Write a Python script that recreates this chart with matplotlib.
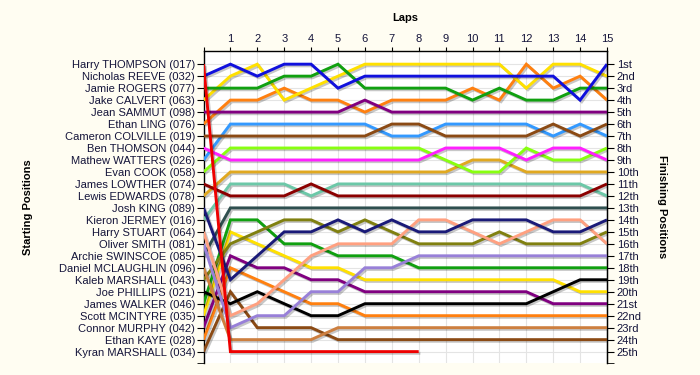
import matplotlib
matplotlib.use("Agg")
import matplotlib.pyplot as plt
import matplotlib.patheffects as pe

plt.rcParams['font.family'] = ['Liberation Sans', 'DejaVu Sans']

# starting grid (row 1..25)
names = [
    "Harry THOMPSON (017)", "Nicholas REEVE (032)", "Jamie ROGERS (077)",
    "Jake CALVERT (063)", "Jean SAMMUT (098)", "Ethan LING (076)",
    "Cameron COLVILLE (019)", "Ben THOMSON (044)", "Mathew WATTERS (026)",
    "Evan COOK (058)", "James LOWTHER (074)", "Lewis EDWARDS (078)",
    "Josh KING (089)", "Kieron JERMEY (016)", "Harry STUART (064)",
    "Oliver SMITH (081)", "Archie SWINSCOE (085)", "Daniel MCLAUGHLIN (096)",
    "Kaleb MARSHALL (043)", "Joe PHILLIPS (021)", "James WALKER (046)",
    "Scott MCINTYRE (035)", "Connor MURPHY (042)", "Ethan KAYE (028)",
    "Kyran MARSHALL (034)",
]

colors = [
    "#ee0000", "#1010dd", "#10a010", "#ffe000", "#800080", "#ff8010",
    "#8b4a14", "#ff20ff", "#3399ff", "#88ff10", "#8b0000", "#e0a820",
    "#1a1a78", "#6cc8a8", "#ffa080", "#9880d8", "#2f4f4f", "#cd7f3f",
    "#808010", "#000000", "#10a010", "#ffe000", "#800080", "#ff8010",
    "#8b4a14",
]

# position at lap 0 (start) .. last lap, one list per driver in grid order
positions = [
    [1, 25, 25, 25, 25, 25, 25, 25, 25],
    [2, 1, 2, 1, 1, 3, 2, 2, 2, 2, 2, 2, 2, 2, 4, 1],
    [3, 3, 3, 2, 2, 1, 3, 3, 3, 3, 4, 3, 4, 4, 3, 3],
    [4, 2, 1, 4, 3, 2, 1, 1, 1, 1, 1, 1, 3, 1, 1, 2],
    [5, 5, 5, 5, 5, 5, 4, 5, 5, 5, 5, 5, 5, 5, 5, 5],
    [6, 4, 4, 3, 4, 4, 5, 4, 4, 4, 3, 4, 1, 3, 2, 4],
    [7, 7, 7, 7, 7, 7, 7, 6, 6, 7, 7, 7, 7, 6, 7, 6],
    [8, 9, 9, 9, 9, 9, 9, 9, 9, 8, 8, 8, 9, 8, 8, 9],
    [9, 6, 6, 6, 6, 6, 6, 7, 7, 6, 6, 6, 6, 7, 6, 7],
    [10, 8, 8, 8, 8, 8, 8, 8, 8, 9, 10, 10, 8, 9, 9, 8],
    [11, 12, 12, 12, 11, 12, 12, 12, 12, 12, 12, 12, 12, 12, 12, 11],
    [12, 10, 10, 10, 10, 10, 10, 10, 10, 10, 9, 9, 10, 10, 10, 10],
    [13, 19, 17, 15, 15, 14, 15, 14, 15, 15, 14, 14, 14, 15, 15, 14],
    [14, 11, 11, 11, 12, 11, 11, 11, 11, 11, 11, 11, 11, 11, 11, 12],
    [15, 22, 21, 19, 17, 16, 16, 16, 14, 14, 15, 16, 15, 14, 14, 16],
    [16, 23, 22, 22, 20, 20, 18, 18, 17, 17, 17, 17, 17, 17, 17, 17],
    [17, 13, 13, 13, 13, 13, 13, 13, 13, 13, 13, 13, 13, 13, 13, 13],
    [18, 24, 24, 24, 24, 23, 23, 23, 23, 23, 23, 23, 23, 23, 23, 23],
    [19, 16, 15, 14, 14, 15, 14, 15, 16, 16, 16, 15, 16, 16, 16, 15],
    [20, 21, 20, 21, 22, 22, 21, 21, 21, 21, 21, 21, 21, 20, 19, 19],
    [21, 14, 14, 16, 16, 17, 17, 17, 18, 18, 18, 18, 18, 18, 18, 18],
    [22, 15, 16, 17, 18, 18, 19, 19, 19, 19, 19, 19, 19, 19, 20, 20],
    [23, 17, 18, 18, 19, 19, 20, 20, 20, 20, 20, 20, 20, 21, 21, 21],
    [24, 18, 19, 20, 21, 21, 22, 22, 22, 22, 22, 22, 22, 22, 22, 22],
    [25, 20, 23, 23, 23, 24, 24, 24, 24, 24, 24, 24, 24, 24, 24, 24],
]

finish_labels = ["1st", "2nd", "3rd"] + [f"{i}th" for i in range(4, 21)] + \
    ["21st", "22nd", "23rd", "24th", "25th"]
laps = list(range(1, 16))

bg = "#fffdf2"
txt = "#14143a"
fig = plt.figure(figsize=(7, 3.75), dpi=100, facecolor=bg)
ax = fig.add_axes([203.5 / 700, 1 - 363 / 375, (607 - 203.5) / 700, (363 - 51) / 375])
ax.set_facecolor("white")

# draw back to front so the leader's line sits on top
for i in reversed(range(len(positions))):
    pos = positions[i]
    ax.plot(range(len(pos)), pos, color=colors[i], lw=2.1,
            solid_joinstyle="miter", solid_capstyle="butt", zorder=3,
            path_effects=[pe.SimpleLineShadow(offset=(1.2, -1.2), shadow_color="black", alpha=0.22),
                          pe.Normal()])

ax.set_xlim(0, 15)
ax.set_ylim(25.95, -0.1)

ax.xaxis.tick_top()
ax.set_xticks([0] + laps)
ax.set_xticklabels([""] + [str(l) for l in laps])
ax.tick_params(axis="x", direction="out", length=3, pad=2, labelsize=8, labelcolor=txt)

ax.set_yticks(range(1, 26))
ax.set_yticklabels(names)
ax.set_yticks([25.95], minor=True)
ax.tick_params(axis="y", which="both", direction="out", length=5, pad=1, labelsize=8, labelcolor=txt)

ax.grid(True, color="#e4e4e4", lw=0.8, zorder=0)
ax.spines["bottom"].set_visible(False)
for s in ("left", "top", "right"):
    ax.spines[s].set_linewidth(1)

ax2 = ax.twinx()
ax2.set_ylim(25.95, -0.1)
ax2.set_yticks(range(1, 26))
ax2.set_yticklabels(finish_labels)
ax2.set_yticks([25.95], minor=True)
ax2.tick_params(axis="y", which="both", direction="out", length=5, pad=2, labelsize=8, labelcolor=txt)
for s in ("left", "top", "bottom"):
    ax2.spines[s].set_visible(False)

fig.text(405 / 700, 1 - 18 / 375, "Laps", ha="center", va="center", fontsize=8, fontweight="bold")
fig.text(28 / 700, 1 - 207 / 375, "Starting Positions", ha="center", va="center",
         rotation=90, fontsize=8, fontweight="bold")
fig.text(662 / 700, 1 - 207 / 375, "Finishing Positions", ha="center", va="center",
         rotation=270, fontsize=8, fontweight="bold")

fig.savefig("out.png", dpi=100, facecolor=bg)
